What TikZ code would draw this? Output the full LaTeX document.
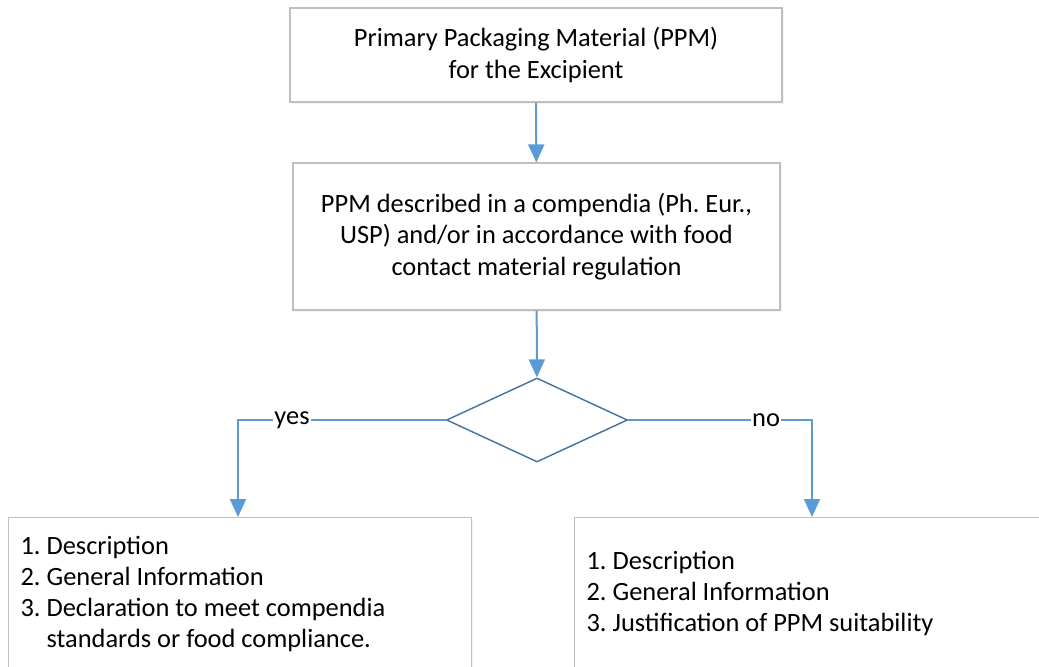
\documentclass[tikz,border=0pt]{standalone}
\usepackage{fontspec}
\setmainfont{Carlito}
\usetikzlibrary{shapes.geometric,arrows.meta,shadows}
\frenchspacing

\definecolor{flowblue}{HTML}{5B9BD5}
\definecolor{edgeblue}{HTML}{41719C}
\definecolor{boxgray}{HTML}{BFBFBF}

\tikzset{
  box/.style={draw=boxgray, line width=0.6pt, fill=white, align=center,
    drop shadow={shadow xshift=0.8pt, shadow yshift=-0.8pt,
      fill=flowblue!30, opacity=0.35}},
  listbox/.style={box, anchor=north west, align=flush left, inner xsep=6pt},
  flow/.style={draw=flowblue, line width=1pt,
    -{Triangle[width=8pt,length=9pt]}},
  tag/.style={fill=white, inner sep=0.5pt}
}

\begin{document}
\begin{tikzpicture}[x=0.5pt,y=-0.5pt,font=\fontsize{13.2}{15.6}\selectfont]
  \useasboundingbox (0,0) rectangle (1039,666);
  \clip (0,0) rectangle (1039,666);

  \node[box, minimum width=246pt, minimum height=47pt] (ppm) at (536,55)
    {Primary Packaging Material (PPM)\\for the Excipient};
  \node[box, minimum width=243.5pt, minimum height=73.5pt] (compendia) at (536.5,236.5)
    {PPM described in a compendia (Ph. Eur.,\\USP) and/or in accordance with food\\contact material regulation};
  \node[draw=edgeblue, line width=0.7pt, diamond, inner sep=0pt,
    minimum width=90.5pt, minimum height=42pt] (check) at (537,420) {};

  \node[listbox, text width=219.5pt, minimum height=76.5pt] (yesbox) at (8,517)
    {1. Description\\
     2. General Information\\
     3. Declaration to meet compendia\\
     \phantom{3. }standards or food compliance.};
  \node[listbox, text width=226pt, minimum height=76pt] (nobox) at (574,517)
    {1. Description\\
     2. General Information\\
     3. Justification of PPM suitability};

  \draw[flow] (ppm) -- (compendia);
  \draw[flow] (compendia) -- (check);
  \draw[flow] (check.west) -| node[tag, pos=0.37] {yes} (yesbox.north -| 238,0);
  \draw[flow] (check.east) -| node[tag, pos=0.375] {no} (nobox.north -| 812,0);
\end{tikzpicture}
\end{document}
